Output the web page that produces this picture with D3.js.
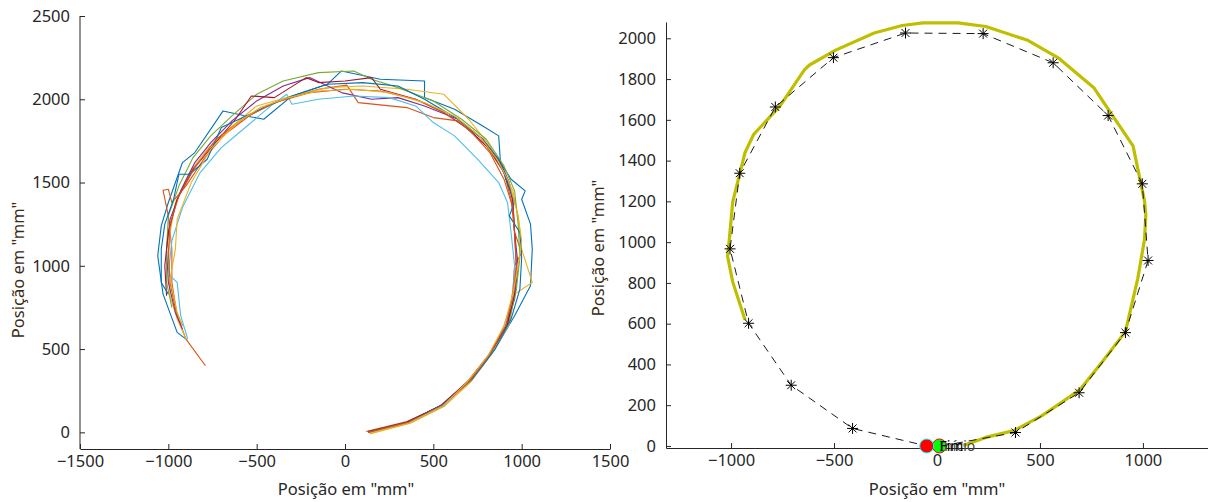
<!DOCTYPE html>
<html><head><meta charset="utf-8">
<script src="https://cdn.jsdelivr.net/npm/d3@7"></script>
<style>
body{margin:0;background:#fff;}
svg{display:block;}
text{font-family:"Noto Sans",sans-serif;}
</style>
</head><body>
<svg id="chart" width="1208" height="502"></svg>
<script>
// ---------- Data: left panel (individual trials) ----------
const trial1 = [[130,0],[360,60],[560,170],[720,330],[860,520],[960,700],[1050,880],[1060,1100],[1050,1250],[1000,1400],[1020,1450],[940,1520],[880,1620],[870,1780],[780,1840],[620,1940],[450,2010],[450,2110],[200,2120],[-20,2170],[-100,2090],[-300,2020],[-460,1880],[-560,1900],[-690,1930],[-850,1680],[-920,1620],[-1000,1380],[-1040,1240],[-1060,1060],[-1030,830],[-950,600],[-900,560]];
const trial2 = [[120,5],[350,65],[550,160],[700,310],[830,480],[920,650],[950,850],[960,1000],[1000,1080],[960,1200],[940,1400],[900,1560],[800,1720],[640,1870],[500,1890],[350,1950],[75,1980],[10,2085],[-150,2060],[-350,2000],[-530,1910],[-680,1790],[-800,1640],[-900,1480],[-980,1380],[-1000,1460],[-1030,1454],[-1000,1300],[-980,1100],[-980,900],[-950,700],[-900,560],[-790,400]];
const trial3 = [[140,-10],[370,55],[560,155],[710,300],[830,470],[930,650],[960,830],[1060,900],[1000,1100],[980,1300],[950,1450],[880,1600],[820,1720],[700,1880],[560,2030],[350,2060],[100,2080],[-100,2070],[-300,2020],[-500,1960],[-650,1830],[-780,1700],[-880,1560],[-960,1380],[-990,1200],[-1000,1000],[-990,820],[-950,680],[-900,560]];
const trial4 = [[130,0],[350,60],[540,160],[690,300],[810,460],[910,640],[960,800],[980,1000],[960,1200],[950,1380],[930,1500],[880,1620],[780,1760],[640,1880],[450,1960],[300,2010],[150,2000],[-20,2040],[-200,2130],[-350,2080],[-500,1990],[-640,1870],[-760,1740],[-850,1620],[-930,1450],[-990,1280],[-1010,1100],[-1000,900],[-960,720],[-920,620]];
const trial5 = [[130,5],[360,60],[560,170],[710,310],[830,490],[930,670],[970,860],[990,1050],[980,1250],[960,1450],[900,1600],[800,1760],[660,1880],[500,1990],[300,2070],[150,2120],[50,2170],[-150,2160],[-350,2110],[-500,2030],[-640,1900],[-760,1780],[-860,1650],[-940,1480],[-1000,1300],[-1010,1100],[-1010,900],[-980,750]];
const trial6 = [[130,0],[360,55],[560,160],[700,310],[830,480],[900,640],[950,800],[960,1000],[940,1200],[920,1380],[870,1500],[750,1640],[620,1780],[500,1860],[400,1960],[250,2010],[50,2020],[-150,2000],[-300,1970],[-330,2030],[-420,1960],[-610,1790],[-700,1710],[-820,1560],[-920,1350],[-980,1150],[-1000,950],[-950,900],[-930,700],[-890,560]];
const trial7 = [[130,5],[350,60],[550,165],[700,310],[820,470],[920,650],[960,830],[970,1000],[960,1200],[950,1400],[900,1560],[820,1700],[700,1820],[560,1920],[400,2000],[200,2060],[150,2130],[0,2110],[-150,2100],[-220,2130],[-400,2010],[-530,2020],[-620,1880],[-740,1730],[-860,1580],[-950,1400],[-1000,1200],[-1020,1000],[-1010,820]];
const trial8 = [[130,0],[360,60],[560,170],[720,320],[850,500],[940,680],[990,860],[1000,1050],[990,1200],[930,1300],[960,1380],[920,1500],[870,1640],[780,1760],[640,1880],[450,2000],[300,2080],[100,2100],[-100,2090],[-300,2020],[-460,1950],[-600,1880],[-700,1830],[-780,1640],[-880,1550],[-940,1550],[-970,1400],[-1020,1250],[-1040,1100],[-1040,900],[-1000,830]];
const trial9 = [[130,0],[360,60],[550,160],[700,300],[820,470],[910,640],[950,820],[970,1000],[960,1180],[950,1350],[900,1520],[820,1680],[700,1820],[560,1920],[400,2000],[200,2050],[0,2060],[-200,2040],[-400,1980],[-580,1880],[-730,1760],[-850,1590],[-940,1420],[-990,1250],[-1000,1080],[-990,900],[-960,740],[-920,640]];
const trial10 = [[140,-5],[360,55],[550,155],[690,300],[810,460],[900,640],[950,830],[980,1000],[1000,1150],[980,1300],[930,1500],[860,1640],[760,1780],[620,1900],[450,1980],[250,2040],[50,2060],[-150,2050],[-320,2010],[-480,1950],[-620,1850],[-760,1700],[-870,1500],[-950,1280],[-960,1100],[-990,920],[-950,720],[-920,640]];
const trials = [trial1, trial2, trial3, trial4, trial5, trial6, trial7, trial8, trial9, trial10];
const trialColors = ["#0072BD","#D95319","#EDB120","#7E2F8E","#77AC30","#4DBEEE","#A2142F","#0072BD","#D95319","#EDB120"];

// ---------- Data: right panel ----------
const meanPath = [[127,2],[237,42],[373,75],[508,148],[600,210],[695,277],[800,410],[915,561],[975,821],[1008,1015],[1014,1133],[1008,1200],[952,1472],[860,1610],[763,1756],[593,1901],[441,1990],[237,2058],[102,2076],[-68,2076],[-169,2063],[-305,2026],[-492,1942],[-619,1869],[-644,1845],[-763,1667],[-890,1529],[-932,1440],[-992,1197],[-1008,1019],[-1017,930],[-992,805],[-932,618]];
const refPoints = [[381,66],[690,261],[915,556],[1025,910],[997,1286],[831,1621],[564,1880],[224,2023],[-153,2026],[-503,1905],[-785,1663],[-958,1338],[-1005,967],[-915,602],[-708,298],[-410,86]];
const refStart = [20,0];
const refEnd = [-50,0];
const startPoint = [12,0];
const endPoint = [-50,0];
const startLabel = "Início";
const endLabel = "Fim";

// ---------- Ticks / labels ----------
const leftXTicks = [-1500,-1000,-500,0,500,1000,1500];
const leftYTicks = [0,500,1000,1500,2000,2500];
const rightXTicks = [-1000,-500,0,500,1000];
const rightYTicks = [0,200,400,600,800,1000,1200,1400,1600,1800,2000];
const axisTitle = "Posição em \"mm\"";

const svg = d3.select("#chart");
const axisColor = "#262626";
const fontSize = 16.5;

// ---------- Left panel ----------
const lx = d3.scaleLinear().domain([-1500,1500]).range([80,610]);
const ly = d3.scaleLinear().domain([-100,2500]).range([449,16]);
const left = svg.append("g");
const line = (sx, sy) => d3.line().x(d => sx(d[0])).y(d => sy(d[1]));

trials.forEach((t, i) => {
  left.append("path").attr("d", line(lx, ly)(t))
    .attr("fill","none").attr("stroke", trialColors[i]).attr("stroke-width",1.1)
    .attr("stroke-linejoin","round");
});

function styleAxis(g){
  g.selectAll("path,line").attr("stroke", axisColor);
  g.selectAll("text").attr("fill", axisColor).attr("font-size", fontSize)
    .attr("font-family","Noto Sans, sans-serif");
}

const lxa = left.append("g").attr("transform","translate(0,449)")
  .call(d3.axisBottom(lx).tickValues(leftXTicks).tickFormat(d3.format("d")).tickSizeInner(-5).tickSizeOuter(0).tickPadding(6));
styleAxis(lxa);
const lya = left.append("g").attr("transform","translate(80,0)")
  .call(d3.axisLeft(ly).tickValues(leftYTicks).tickFormat(d3.format("d")).tickSizeInner(-5).tickSizeOuter(0).tickPadding(10));
styleAxis(lya);
lya.select(".domain").attr("d","M0,449V16");

left.append("text").attr("x",346).attr("y",495).attr("text-anchor","middle")
  .attr("font-size",fontSize).attr("fill",axisColor).text(axisTitle);
left.append("text").attr("transform","translate(24,270) rotate(-90)").attr("text-anchor","middle")
  .attr("font-size",fontSize).attr("fill","#3a2a14").text(axisTitle);

// ---------- Right panel ----------
const rx = d3.scaleLinear().domain([-1316,1316]).range([666,1208]);
const ry = d3.scaleLinear().domain([-10,2080]).range([448,22]);
const right = svg.append("g");

right.append("path").attr("d", line(rx, ry)(meanPath))
  .attr("fill","none").attr("stroke","#BFBF00").attr("stroke-width",3.2)
  .attr("stroke-linejoin","round");

const dashed = [refStart, ...refPoints, refEnd];
right.append("path").attr("d", line(rx, ry)(dashed))
  .attr("fill","none").attr("stroke","#000").attr("stroke-width",0.9)
  .attr("stroke-dasharray","8,6");

const ast = 5.5;
const marks = right.selectAll("g.mk").data(refPoints).join("g").attr("class","mk")
  .attr("transform", d => `translate(${rx(d[0])},${ry(d[1])})`);
marks.append("path")
  .attr("d", `M${-ast},0H${ast}M0,${-ast}V${ast}M${-ast*0.72},${-ast*0.72}L${ast*0.72},${ast*0.72}M${-ast*0.72},${ast*0.72}L${ast*0.72},${-ast*0.72}`)
  .attr("stroke","#000").attr("stroke-width",1);

const rxa = right.append("g").attr("transform","translate(0,448)")
  .call(d3.axisBottom(rx).tickValues(rightXTicks).tickFormat(d3.format("d")).tickSizeInner(-5).tickSizeOuter(0).tickPadding(6));
styleAxis(rxa);
const rya = right.append("g").attr("transform","translate(666,0)")
  .call(d3.axisLeft(ry).tickValues(rightYTicks).tickFormat(d3.format("d")).tickSizeInner(-5).tickSizeOuter(0).tickPadding(10));
styleAxis(rya);

// start / end markers
right.append("circle").attr("cx", rx(startPoint[0])).attr("cy", ry(startPoint[1])).attr("r",7)
  .attr("fill","#00FF00").attr("stroke","#FF0000").attr("stroke-width",1);
right.append("circle").attr("cx", rx(endPoint[0])).attr("cy", ry(endPoint[1])).attr("r",7)
  .attr("fill","#FF0000").attr("stroke","#00FFFF").attr("stroke-width",1);
right.append("text").attr("x", rx(startPoint[0])).attr("y", ry(startPoint[1]))
  .attr("dy","0.35em").attr("font-size",14).attr("fill","#444").text(startLabel);
right.append("text").attr("x", rx(startPoint[0])).attr("y", ry(startPoint[1]))
  .attr("dy","0.35em").attr("font-size",14).attr("fill","#000").text(endLabel);

right.append("text").attr("x",937).attr("y",495).attr("text-anchor","middle")
  .attr("font-size",fontSize).attr("fill",axisColor).text(axisTitle);
right.append("text").attr("transform","translate(604,248) rotate(-90)").attr("text-anchor","middle")
  .attr("font-size",fontSize).attr("fill","#3a2a14").text(axisTitle);
</script>
</body></html>
